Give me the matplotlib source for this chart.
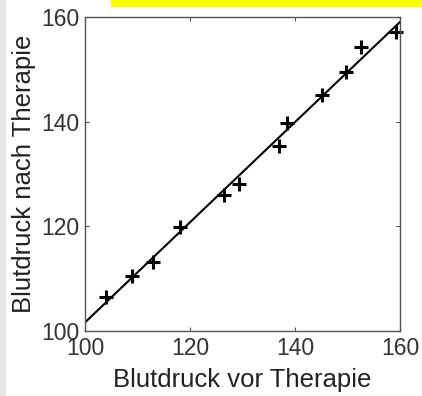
import numpy as np
import matplotlib.pyplot as plt
from matplotlib.patches import Rectangle

# blood pressure before / after therapy
vor = [104.0, 108.9, 113.0, 118.0, 126.5, 129.4, 137.0, 138.5, 145.1, 149.8, 152.5, 159.2]
nach = [106.5, 110.5, 113.2, 119.8, 126.0, 128.0, 135.4, 139.8, 145.1, 149.4, 154.3, 157.1]
ticks = [100, 120, 140, 160]

plt.rcParams['font.family'] = ['Liberation Sans', 'DejaVu Sans']

fig = plt.figure(figsize=(4.22, 3.96), dpi=100)
# page decorations
fig.patches.append(Rectangle((0, 0), 0.011, 1, transform=fig.transFigure,
                             color='#e6e6e6', zorder=0))
fig.patches.append(Rectangle((0.263, 0.985), 0.737, 0.015, transform=fig.transFigure,
                             color='#ffff00', zorder=0))

ax = fig.add_axes([85/422, 1-331/396, 315/422, 314/396])

# least-squares line
p = np.polyfit(vor, nach, 1)
xl = np.array([100, 160])
ax.plot(xl, np.polyval(p, xl), color='black', lw=1.5)
ax.plot(vor, nach, '+', color='black', ms=10, mew=2.2, clip_on=False)

ax.set_xlim(100, 160)
ax.set_ylim(100, 160)
ax.set_xticks(ticks)
ax.set_yticks(ticks)
ax.tick_params(direction='in', top=True, right=True, length=3, width=0.8,
               color='#555555', labelsize=16.5, labelcolor='#333333', pad=4)
for s in ax.spines.values():
    s.set_color('#555555')
    s.set_linewidth(1.0)

ax.set_xlabel('Blutdruck vor Therapie', fontsize=18.5, color='#222222', labelpad=6)
ax.set_ylabel('Blutdruck nach Therapie', fontsize=18.5, color='#222222', labelpad=4)

fig.savefig('out.png', dpi=100)
